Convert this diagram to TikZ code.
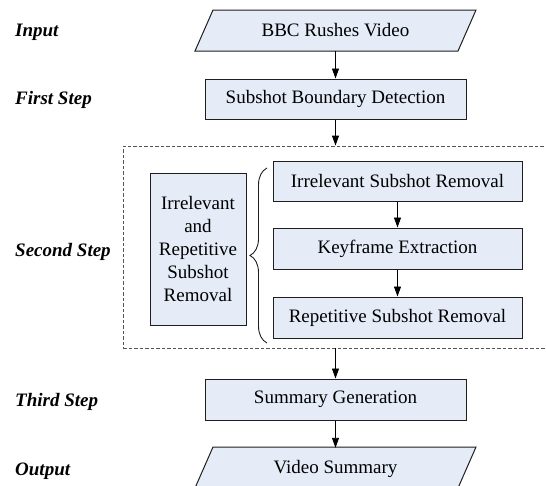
\documentclass[tikz,border=0pt]{standalone}
\usepackage{fontspec}
\setmainfont{Liberation Serif}
\usetikzlibrary{arrows.meta,decorations.pathreplacing}
\definecolor{boxfill}{RGB}{229,236,247}
\definecolor{boxline}{RGB}{30,30,30}
\definecolor{dashline}{RGB}{85,85,85}
\begin{document}
\begin{tikzpicture}[x=1pt,y=-1pt,
  every node/.style={font=\fontsize{19}{23}\selectfont, inner sep=0pt},
  procbox/.style={draw=boxline, fill=boxfill, line width=1pt, minimum height=40pt},
  shapeline/.style={draw=boxline, fill=boxfill, line width=1pt},
  iotext/.style={minimum height=41pt},
  steplabel/.style={anchor=base west, font=\fontsize{19}{23}\selectfont\bfseries\itshape},
  arr/.style={line width=0.9pt, -{Triangle[length=10pt,width=7pt]}},
]
\useasboundingbox (0,0) rectangle (546,485);
\clip (0,0) rectangle (546,485);

% step labels
\node[steplabel] (lin)  at (15,36)  {Input};
\node[steplabel] (lfs)  at (15,104) {First Step};
\node[steplabel] (lss)  at (15,256) {Second Step};
\node[steplabel] (lts)  at (15,406) {Third Step};
\node[steplabel] (lout) at (15,475) {Output};

% input parallelogram
\path[shapeline] (195,51) -- (458,51) -- (476,10) -- (213,10) -- cycle;
\node[iotext, minimum width=263pt] (in) at (335.5,30.5) {BBC Rushes Video};

% first step
\node[procbox, minimum width=261pt] (sbd) at (335.5,99) {Subshot Boundary Detection};

% second step container
\node[draw=dashline, dash pattern=on 3.5pt off 2pt, line width=0.9pt,
      minimum width=431pt, minimum height=202pt] (stage) at (338.5,247) {};

\node[procbox, minimum width=96pt, minimum height=152pt, align=center] (lb) at (198,249)
  {Irrelevant\\and\\Repetitive\\Subshot\\Removal};

\node[procbox, minimum width=249pt] (r1) at (397.5,181) {Irrelevant Subshot Removal};
\node[procbox, minimum width=249pt, minimum height=41pt] (r2) at (397.5,248.5) {Keyframe Extraction};
\node[procbox, minimum width=249pt, minimum height=41pt] (r3) at (397.5,317.5) {Repetitive Subshot Removal};

\coordinate (btop) at (267,168);
\coordinate (bbot) at (267,343);
\draw[line width=0.9pt, draw=boxline, decorate, decoration={brace, amplitude=17pt}] (bbot) -- (btop);

% third step
\node[procbox, minimum width=261pt, minimum height=41pt] (sg) at (335.5,399.5) {Summary Generation};

% output parallelogram
\path[shapeline] (195,488) -- (458,488) -- (476,447) -- (213,447) -- cycle;
\node[iotext, minimum width=263pt] (out) at (335.5,468.5) {Video Summary};

% connectors
\draw[arr] (in.south) -- (sbd.north);
\draw[arr] (sbd.south) -- (sbd.south |- stage.north);
\draw[arr] (r1.south) -- (r2.north);
\draw[arr] (r2.south) -- (r3.north);
\draw[arr] (sg.north |- stage.south) -- (sg.north);
\draw[arr] (sg.south) -- (out.north);
\end{tikzpicture}
\end{document}
